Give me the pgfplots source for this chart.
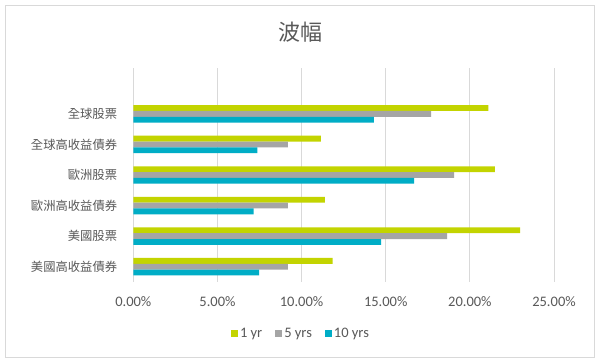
\documentclass[border=0pt]{standalone}
\usepackage{fontspec}
\usepackage{pgfplots}
\pgfplotsset{compat=1.18}
\setmainfont{Carlito}
\newfontfamily\cjk{Noto Sans CJK TC}
\definecolor{cgreen}{HTML}{C3D400}
\definecolor{cgray}{HTML}{A5A5A5}
\definecolor{cteal}{HTML}{00ADC6}
\definecolor{ctext}{HTML}{595959}
\definecolor{cgrid}{HTML}{D9D9D9}
\newcommand{\lf}{\fontsize{14.5}{16}\selectfont}
\begin{document}
\begin{tikzpicture}[x=1pt,y=1pt]
\useasboundingbox (0,0) rectangle (602,363);
\fill[white] (0,0) rectangle (602,363);
\draw[cgrid, line width=0.8pt] (5,6) rectangle (594,358);
\node[font=\cjk\fontsize{22}{24}\selectfont, text=ctext] at (300,330.5) {波幅};
\begin{axis}[
  at={(133.3pt,81pt)}, anchor=south west,
  scale only axis, width=420.7pt, height=214pt,
  xbar, bar width=5.83pt,
  xmin=0, xmax=25, ymin=-0.5, ymax=6.5,
  xtick={0,5,10,15,20,25},
  xticklabels={0.00\%,5.00\%,10.00\%,15.00\%,20.00\%,25.00\%},
  ytick={0,1,2,3,4,5},
  yticklabels={美國高收益債券,美國股票,歐洲高收益債券,歐洲股票,全球高收益債券,全球股票},
  xmajorgrids, grid style={cgrid, line width=0.9pt},
  axis line style={draw=none},
  major tick length=0pt,
  xticklabel style={font=\lf, text=ctext, anchor=center, inner sep=0pt, yshift=-20pt},
  yticklabel style={font=\cjk\fontsize{12.3}{14}\selectfont, text=ctext, anchor=east, inner sep=0pt, xshift=-16pt},
  legend style={at={(0.3986,-0.243)}, anchor=center, draw=none, legend columns=-1,
    font=\lf, text=ctext,
    /tikz/every even column/.append style={column sep=11pt}},
  legend image code/.code={\fill[#1] (0pt,-3.5pt) rectangle (7pt,3.5pt);},
]
\addplot[fill=cgreen, draw=none, bar shift=5.83pt] coordinates {(11.84,0) (22.99,1) (11.39,2) (21.49,3) (11.15,4) (21.10,5)};
\addplot[fill=cgray, draw=none, bar shift=0pt] coordinates {(9.19,0) (18.65,1) (9.19,2) (19.07,3) (9.19,4) (17.70,5)};
\addplot[fill=cteal, draw=none, bar shift=-5.83pt] coordinates {(7.47,0) (14.73,1) (7.15,2) (16.69,3) (7.37,4) (14.30,5)};
\legend{{\lf 1 yr},{\lf 5 yrs},{\lf 10 yrs}}
\end{axis}
\end{tikzpicture}
\end{document}
